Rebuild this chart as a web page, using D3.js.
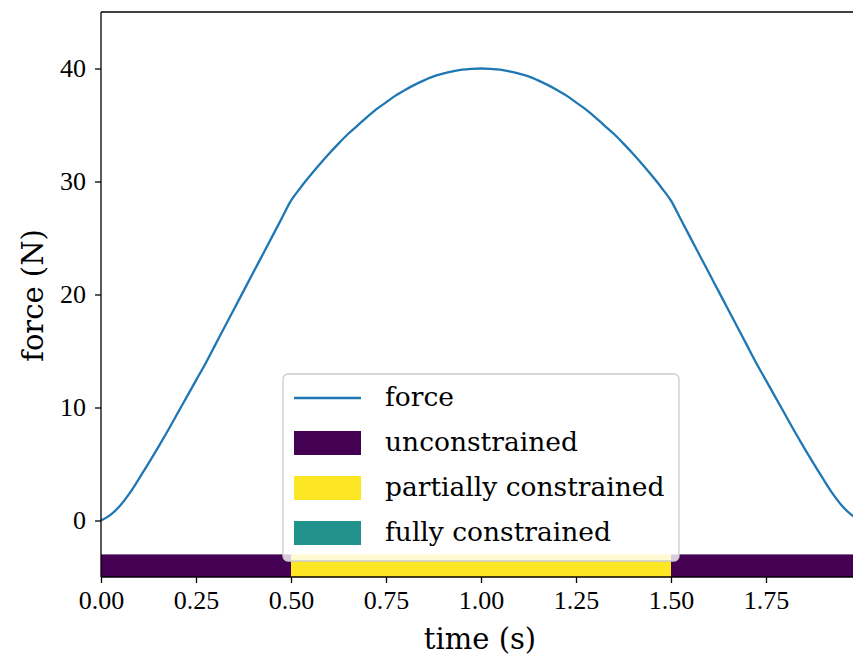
<!DOCTYPE html>
<html>
<head>
<meta charset="utf-8">
<script src="https://cdn.jsdelivr.net/npm/d3@7"></script>
<style>
  body { margin: 0; background: #fff; }
  svg text { fill: #000; }
  .num { font-family: "Liberation Serif", serif; }
  .word { font-family: "DejaVu Serif", serif; }
</style>
</head>
<body>
<div id="wrapper"></div>
<script>
// data
const times = [0, 0.025, 0.05, 0.075, 0.1, 0.125, 0.15, 0.175, 0.2, 0.225, 0.25,
  0.275, 0.3, 0.325, 0.35, 0.375, 0.4, 0.425, 0.45, 0.475, 0.5,
  0.525, 0.55, 0.575, 0.6, 0.625, 0.65, 0.675, 0.7, 0.725, 0.75,
  0.775, 0.8, 0.825, 0.85, 0.875, 0.9, 0.925, 0.95, 0.975, 1.0,
  1.025, 1.05, 1.075, 1.1, 1.125, 1.15, 1.175, 1.2, 1.225, 1.25,
  1.275, 1.3, 1.325, 1.35, 1.375, 1.4, 1.425, 1.45, 1.475, 1.5,
  1.525, 1.55, 1.575, 1.6, 1.625, 1.65, 1.675, 1.7, 1.725, 1.75,
  1.775, 1.8, 1.825, 1.85, 1.875, 1.9, 1.925, 1.95, 1.975, 2.0];
const force = [0, 0.5, 1.3, 2.4, 3.7, 5.05, 6.45, 7.9, 9.4, 10.9, 12.4,
  13.9, 15.5, 17.1, 18.7, 20.3, 21.9, 23.5, 25.1, 26.7, 28.3,
  29.45, 30.5, 31.5, 32.45, 33.35, 34.2, 34.95, 35.7, 36.4, 37.0,
  37.6, 38.1, 38.55, 38.95, 39.3, 39.55, 39.75, 39.9, 39.97, 40.0,
  39.97, 39.9, 39.75, 39.55, 39.3, 38.95, 38.55, 38.1, 37.6, 37.0,
  36.4, 35.7, 34.95, 34.2, 33.35, 32.45, 31.5, 30.5, 29.45, 28.3,
  26.7, 25.1, 23.5, 21.9, 20.3, 18.7, 17.1, 15.5, 13.9, 12.4,
  10.9, 9.4, 7.9, 6.45, 5.05, 3.7, 2.4, 1.3, 0.5, 0];

const stateStarts = [0, 0.5, 1.5];
const stateEnds = [0.5, 1.5, 2.0];
const stateNames = ["unconstrained", "partially constrained", "unconstrained"];

const legendLabels = ["force", "unconstrained", "partially constrained", "fully constrained"];
const stateColors = {
  "unconstrained": "#440154",
  "partially constrained": "#fde725",
  "fully constrained": "#21918c"
};

const xTicks = [0, 0.25, 0.5, 0.75, 1.0, 1.25, 1.5, 1.75];
const yTicks = [0, 10, 20, 30, 40];

const width = 853;
const height = 662;
const margin = { top: 12, left: 101, bottom: 85 };
const plotWidth = 760;
const plotHeight = height - margin.top - margin.bottom;

const svg = d3.select("#wrapper").append("svg")
    .attr("width", width)
    .attr("height", height);

const xScale = d3.scaleLinear().domain([0, 2]).range([margin.left, margin.left + plotWidth]);
const yScale = d3.scaleLinear().domain([-5, 45]).range([margin.top + plotHeight, margin.top]);

// state bar
const bar = svg.append("g");
bar.selectAll("rect")
  .data(stateStarts)
  .join("rect")
    .attr("x", (d, i) => xScale(d))
    .attr("width", (d, i) => xScale(stateEnds[i]) - xScale(d))
    .attr("y", yScale(-3))
    .attr("height", yScale(-5) - yScale(-3))
    .attr("fill", (d, i) => stateColors[stateNames[i]]);

// force curve
const line = d3.line()
  .x((d, i) => xScale(times[i]))
  .y(d => yScale(d))
  .curve(d3.curveMonotoneX);

svg.append("path")
    .datum(force)
    .attr("d", line)
    .attr("fill", "none")
    .attr("stroke", "#1f77b4")
    .attr("stroke-width", 2.3);

// axes
const xAxis = svg.append("g")
    .attr("transform", `translate(0, ${margin.top + plotHeight})`)
    .call(d3.axisBottom(xScale).tickValues(xTicks).tickFormat(d3.format(".2f")).tickSize(6).tickPadding(8));
const yAxis = svg.append("g")
    .attr("transform", `translate(${margin.left}, 0)`)
    .call(d3.axisLeft(yScale).tickValues(yTicks).tickSize(6).tickPadding(9));

[xAxis, yAxis].forEach(ax => {
  ax.select(".domain").remove();
  ax.selectAll("line").attr("stroke", "#000").attr("stroke-width", 1.3);
  ax.selectAll("text")
      .attr("class", "num")
      .attr("font-size", 26)
      .attr("font-family", null);
});

// spines
const spine = (x1, y1, x2, y2) => svg.append("line")
    .attr("x1", x1).attr("y1", y1).attr("x2", x2).attr("y2", y2)
    .attr("stroke", "#000").attr("stroke-width", 1.3);
spine(margin.left, margin.top, margin.left, margin.top + plotHeight);
spine(margin.left, margin.top, margin.left + plotWidth, margin.top);
spine(margin.left, margin.top + plotHeight, margin.left + plotWidth, margin.top + plotHeight);

// axis labels
svg.append("text")
    .attr("class", "word")
    .attr("x", 480)
    .attr("y", 649)
    .attr("text-anchor", "middle")
    .attr("font-size", 29)
    .text("time (s)");
svg.append("text")
    .attr("class", "word")
    .attr("transform", `translate(43, ${yScale(20) + 1}) rotate(-90)`)
    .attr("text-anchor", "middle")
    .attr("font-size", 29)
    .text("force (N)");

// legend
const legend = svg.append("g").attr("transform", "translate(283, 374)");
legend.append("rect")
    .attr("width", 396)
    .attr("height", 187)
    .attr("rx", 5)
    .attr("fill", "#fff")
    .attr("fill-opacity", 0.8)
    .attr("stroke", "#cccccc")
    .attr("stroke-width", 1.3);

const entries = legend.selectAll(".entry")
  .data(legendLabels)
  .join("g")
    .attr("class", "entry")
    .attr("transform", (d, i) => `translate(0, ${24 + i * 45})`);

entries.filter((d, i) => i === 0).append("line")
    .attr("x1", 11).attr("x2", 78)
    .attr("stroke", "#1f77b4")
    .attr("stroke-width", 2.3);
entries.filter((d, i) => i > 0).append("rect")
    .attr("x", 11).attr("width", 67)
    .attr("y", -12).attr("height", 24)
    .attr("fill", d => stateColors[d]);
entries.append("text")
    .attr("class", "word")
    .attr("x", 102)
    .attr("dy", "0.32em")
    .attr("font-size", 26.5)
    .text(d => d);
</script>
</body>
</html>
